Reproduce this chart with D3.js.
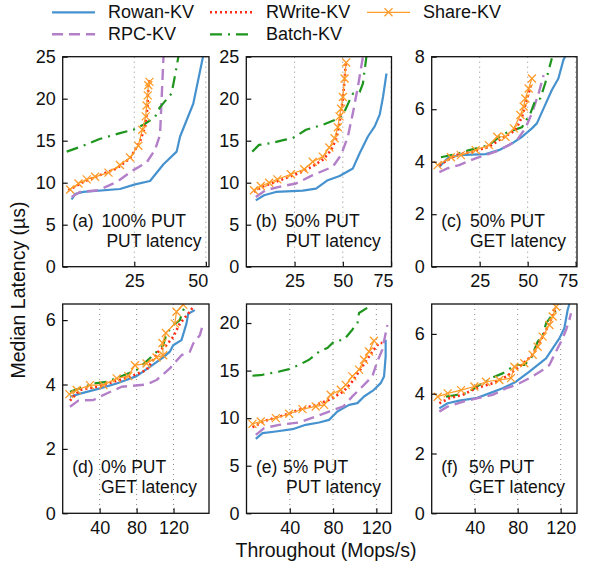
<!DOCTYPE html>
<html>
<head>
<meta charset="utf-8">
<script src="https://cdn.jsdelivr.net/npm/d3@7"></script>
<style>
  body { margin: 0; background: #fff; }
  text { font-family: "Liberation Sans", Arial, Helvetica, sans-serif; fill: #111; }
</style>
</head>
<body>
<div id="chart"></div>
<script>
var seriesNames = ["Rowan-KV", "RWrite-KV", "Share-KV", "RPC-KV", "Batch-KV"];

// tick labels
var yTicks25 = [0, 5, 10, 15, 20, 25],
    yTicks20 = [0, 5, 10, 15, 20],
    yTicks8 = [0, 2, 4, 6, 8],
    yTicks6 = [0, 2, 4, 6],
    xTicks50 = [25, 50],
    xTicks75 = [25, 50, 75],
    xTicks120 = [40, 80, 120];

// (a) 100% PUT, PUT latency  [throughput, latency]
var aRowan = [[3.1,8.0],[4.3,8.65],[7.2,8.9],[20,9.25],[25.3,9.8],[30.5,10.2],[35.2,12.2],[39.8,13.7],[41,15.5],[45.6,19.4],[49,25]];
var aRWrite = [[2,9.1],[7.2,10.1],[13,10.9],[18.9,11.7],[23.5,12.9],[27,14.9],[28.8,16.7],[29.6,19],[29.9,21.4],[30.3,22.2]];
var aShare = [[2.6,9.2],[5.5,9.9],[8.4,10.4],[11.3,10.7],[16,11.2],[20,12.1],[23.5,13],[26.4,14.4],[27.8,16.3],[29,17.9],[29.3,19.2],[29.7,20.4],[29.9,21.6],[30.3,22]];
var aRPC = [[3.1,8.3],[6,8.9],[12.5,9.1],[18.9,10.1],[24.7,11.5],[29.3,12.4],[32.2,13.9],[34,15.7],[35.2,25]];
var aBatch = [[1.4,13.7],[7.2,14.4],[12.9,15.2],[20,15.9],[24.7,16.3],[28.2,16.9],[32.2,17.8],[34,19.0],[38,20.6],[39.2,22.7],[40.4,25]];

// (b) 50% PUT, PUT latency
var bRowan = [[4.9,7.9],[9.2,8.5],[15.3,8.9],[29.2,9.05],[36.1,9.3],[42.2,10.3],[48.3,10.8],[55.2,11.7],[58.7,13.5],[63,15.5],[66.5,16.7],[69.1,18.1],[70.8,20.2],[72.6,23.0]];
var bRWrite = [[4,8.9],[8,9.5],[13,9.9],[20,10.5],[28,11.2],[34,11.9],[40,12.8],[44,13.9],[46.5,15.2],[48,16.8],[49.2,18.5],[50.2,20.5],[51,22.5],[51.5,24.3]];
var bShare = [[4,9.1],[7.5,9.6],[11.8,10],[16.1,10.4],[23.1,11],[30,11.6],[34.4,12.5],[39.6,13.1],[43,14.2],[45.7,15.3],[47.4,16.6],[48.3,17.9],[49.1,18.8],[50,20.2],[50.9,22.4],[51.7,24.3]];
var bRPC = [[4.9,8.3],[10,9.1],[17,9.5],[25.7,9.9],[34.4,10.9],[44.8,11.9],[49.1,13.3],[52.6,15.5],[55.2,18.3],[57.8,21.4],[60.4,25]];
var bBatch = [[3.1,13.7],[6.6,14.5],[12.7,14.7],[19.6,15.1],[24,15.3],[30.9,16.3],[39.6,16.9],[48.3,17.7],[50.9,18.5],[53.5,19.8],[55.2,20.6],[58.7,20.8],[60.4,21.8],[62.2,25]];

// (c) 50% PUT, GET latency
var cRowan = [[4,3.81],[8.3,4.13],[14.3,4.25],[28.1,4.29],[35,4.44],[41.9,4.7],[47.1,4.95],[52.2,5.27],[54.8,5.46],[58.3,6.03],[62.6,6.73],[66,7.17],[68.6,7.87],[69.5,8]];
var cRWrite = [[4,3.87],[12.6,4.25],[21.2,4.38],[29.8,4.57],[36.7,4.89],[43.6,5.2],[47.1,5.71],[49.7,6.41],[51.9,6.98]];
var cShare = [[3.1,3.87],[10,4.17],[15.2,4.25],[22.9,4.44],[29.8,4.63],[34.1,4.95],[38.4,4.95],[42.8,5.27],[46.2,5.78],[47.9,6.1],[48.8,6.41],[50.5,6.79],[52.2,7.17]];
var cRPC = [[4,3.6],[8.3,3.75],[14.3,3.87],[22.9,4.13],[33.3,4.38],[40.2,4.63],[44.5,4.83],[48.8,5.27],[52.2,5.84],[55.7,6.6],[58.3,7.3]];
var cBatch = [[4.8,4.17],[12.6,4.29],[19.5,4.44],[29.8,4.63],[36.7,5.04],[45.3,5.27],[47,5.31],[51.4,5.84],[54,6.35],[56.6,6.41],[59.1,6.98],[62.6,7.94]];

// (d) 0% PUT, GET latency
var dRowan = [[7.9,3.62],[16.9,3.7],[40.4,3.88],[58.4,4.03],[80,4.26],[94.4,4.55],[108.8,4.84],[116,5.02],[119.6,5.22],[128.6,5.38],[134,5.89],[135.9,6.2],[143,6.31]];
var dRWrite = [[7.9,3.5],[18.7,3.83],[36.8,3.93],[54.8,4.08],[72.8,4.24],[90.8,4.45],[103.4,5.02],[112.4,5.22],[119.6,5.48],[126.8,5.89],[135.9,6.2],[141.3,6.41]];
var dShare = [[7.2,3.7],[15.1,3.83],[29.5,3.98],[44,3.98],[58.4,4.19],[71,4.26],[78.2,4.6],[90.8,4.65],[101.6,4.84],[108.8,4.91],[108,5.29],[111.7,5.6],[121.4,5.89],[123.2,6.26],[130.5,6.48]];
var dRPC = [[7.9,3.31],[16.9,3.5],[33.2,3.52],[47.6,3.72],[63.8,3.93],[90.8,4.0],[101.6,4.14],[116,4.5],[128.6,4.91],[137.7,5.02],[141.3,5.27],[148.5,5.53],[152,5.89]];
var dBatch = [[7.9,3.77],[18.7,3.88],[33.2,4.03],[47.6,4.08],[62,4.24],[80,4.45],[98,4.91],[108.8,5.22],[112.4,5.58],[119.6,5.84],[126.8,6.0],[130.5,6.31],[134,6.46]];

// (e) 5% PUT, PUT latency
var eRowan = [[8.6,7.82],[14.8,8.42],[27.1,8.6],[42.5,8.84],[54.8,9.3],[67.1,9.54],[76.3,9.82],[84,10.7],[94.8,11.4],[102.5,11.58],[108.6,12.28],[117.8,12.98],[124,13.68],[127.1,14.39],[128.6,16.5],[128.6,18.25]];
var eRWrite = [[5.5,9.05],[17.8,9.75],[33.2,10.25],[48.6,10.88],[64,11.4],[76.3,11.93],[89.5,12.8],[97.8,13.86],[107.1,15.44],[116.3,17.0],[122.5,17.9],[125.5,17.9]];
var eShare = [[5.5,9.4],[13.2,9.65],[27.1,10],[39.4,10.46],[51.7,10.95],[64,11.23],[71.7,11.4],[77.8,12.46],[87.1,12.98],[91.7,13.5],[97.8,14.39],[104,15.1],[108.6,16.14],[113.2,17.0],[117.8,18.14]];
var eRPC = [[8.6,8.25],[16.3,8.95],[30.2,9.3],[48.6,9.54],[64,10.18],[76.3,10.7],[89.5,11.23],[97.8,12.28],[108.6,13.5],[116.3,14.39],[120.9,15.96],[125.5,17.2],[130.2,19.8]];
var eBatch = [[5.5,14.46],[14.8,14.56],[30.2,14.9],[39.4,15.16],[48.6,15.6],[57.8,16.14],[67.1,17.0],[74.8,17.37],[80.9,18.07],[90.2,18.25],[97.8,19.3],[102.5,20.0],[104,21.05],[111.7,21.6]];

// (f) 5% PUT, GET latency
var fRowan = [[7.1,3.51],[14.9,3.68],[25.7,3.77],[41.2,3.85],[53.6,4.01],[66,4.18],[78.4,4.4],[90.9,4.74],[106.4,5.18],[118.8,5.85],[123.4,6.19],[126.5,6.8],[128.1,7.0]];
var fRWrite = [[7.1,3.68],[16.4,3.85],[28.8,3.96],[41.2,4.18],[56.7,4.35],[69.1,4.57],[81.6,4.9],[94,5.3],[103.3,5.91],[109.5,6.35],[115.7,6.91]];
var fShare = [[5.6,3.9],[14.9,4.01],[27.3,4.12],[39.7,4.24],[50.5,4.4],[62.9,4.46],[73.8,4.52],[76.9,4.9],[86.2,5.02],[94,5.3],[98.6,5.57],[103.3,5.91],[109.5,6.3],[112.6,6.58],[115.7,6.91]];
var fRPC = [[7.1,3.4],[14.9,3.57],[28.8,3.73],[42.8,3.85],[56.7,3.96],[69.1,4.18],[78.4,4.29],[90.9,4.52],[103.3,4.79],[109.5,4.96],[114.1,5.3],[120.3,5.74],[125,6.13],[128.1,6.47],[129.6,6.69]];
var fBatch = [[13.3,3.9],[31.9,4.01],[44.3,4.29],[58.3,4.57],[66,4.68],[75.3,4.9],[80,4.96],[86.2,4.96],[92.4,5.18],[98.6,5.74],[103.3,5.96],[106.4,6.35],[111,6.58],[115.7,6.8]];

var styles = {
  "Rowan-KV":  {color: "#4692cf", width: 2.2, dash: null},
  "RWrite-KV": {color: "#ff2a14", width: 2.6, dash: "2 3"},
  "Share-KV":  {color: "#ff9c2a", width: 1.2, dash: null, marker: true},
  "RPC-KV":    {color: "#b47fc9", width: 2.4, dash: "11 6"},
  "Batch-KV":  {color: "#1e961e", width: 2.2, dash: "12 6 2 6"}
};
var drawOrder = ["Rowan-KV", "RPC-KV", "Batch-KV", "RWrite-KV", "Share-KV"];

var panels = [
  {l: 62.7, r: 209, t: 56.7, b: 266.7, xd: [0, 51.1], yd: [0, 25], xt: xTicks50, yt: yTicks25,
   tag: "(a)", l1: "100% PUT", l2: "PUT latency", o1: 38.7, o2: 43.7,
   data: {"Rowan-KV": aRowan, "RWrite-KV": aRWrite, "Share-KV": aShare, "RPC-KV": aRPC, "Batch-KV": aBatch}},
  {l: 246.3, r: 391.5, t: 56.7, b: 266.7, xd: [0, 75.2], yd: [0, 25], xt: xTicks75, yt: yTicks25,
   tag: "(b)", l1: "50% PUT", l2: "PUT latency", o1: 38.5, o2: 39.5,
   data: {"Rowan-KV": bRowan, "RWrite-KV": bRWrite, "Share-KV": bShare, "RPC-KV": bRPC, "Batch-KV": bBatch}},
  {l: 431.7, r: 577, t: 56.7, b: 266.7, xd: [0, 75.7], yd: [0, 8], xt: xTicks75, yt: yTicks8,
   tag: "(c)", l1: "50% PUT", l2: "GET latency", o1: 38.3, o2: 38.3,
   data: {"Rowan-KV": cRowan, "RWrite-KV": cRWrite, "Share-KV": cShare, "RPC-KV": cRPC, "Batch-KV": cBatch}},
  {l: 62.7, r: 209, t: 304, b: 513.3, xd: [0, 158.4], yd: [0, 6.5], xt: xTicks120, yt: yTicks6,
   tag: "(d)", l1: "0% PUT", l2: "GET latency", o1: 38.3, o2: 38.3,
   data: {"Rowan-KV": dRowan, "RWrite-KV": dRWrite, "Share-KV": dShare, "RPC-KV": dRPC, "Batch-KV": dBatch}},
  {l: 246.5, r: 391.5, t: 304, b: 513.3, xd: [0, 134], yd: [0, 22], xt: xTicks120, yt: yTicks20,
   tag: "(e)", l1: "5% PUT", l2: "PUT latency", o1: 36.5, o2: 39.5,
   data: {"Rowan-KV": eRowan, "RWrite-KV": eRWrite, "Share-KV": eShare, "RPC-KV": eRPC, "Batch-KV": eBatch}},
  {l: 431.7, r: 577, t: 304, b: 513.3, xd: [0, 135.2], yd: [0, 7], xt: xTicks120, yt: yTicks6,
   tag: "(f)", l1: "5% PUT", l2: "GET latency", o1: 37.3, o2: 37.3,
   data: {"Rowan-KV": fRowan, "RWrite-KV": fRWrite, "Share-KV": fShare, "RPC-KV": fRPC, "Batch-KV": fBatch}}
];

var svg = d3.select("#chart").append("svg")
    .attr("width", 590)
    .attr("height", 565);

var defs = svg.append("defs");
var xMark = "M-4,-4L4,4M-4,4L4,-4";

panels.forEach(function(p, i) {
  var x = d3.scaleLinear().domain(p.xd).range([p.l, p.r]);
  var y = d3.scaleLinear().domain(p.yd).range([p.b, p.t]);

  defs.append("clipPath").attr("id", "clip" + i)
    .append("rect")
      .attr("x", p.l).attr("y", p.t)
      .attr("width", p.r - p.l).attr("height", p.b - p.t);

  var g = svg.append("g");

  // dotted vertical grid
  g.selectAll(".grid").data(p.xt).enter()
    .append("line")
      .attr("x1", function(d) { return x(d); })
      .attr("x2", function(d) { return x(d); })
      .attr("y1", p.t).attr("y2", p.b)
      .attr("stroke", "#8a8a8a")
      .attr("stroke-width", 1)
      .attr("stroke-dasharray", "1 4");

  // panel text
  var lab = g.append("g").style("font-size", "17.5px");
  lab.append("text").attr("x", p.l + 9.5).attr("y", p.b - 40).text(p.tag);
  lab.append("text").attr("x", p.l + p.o1).attr("y", p.b - 40).text(p.l1);
  lab.append("text").attr("x", p.l + p.o2).attr("y", p.b - 20).text(p.l2);

  // series
  var plot = g.append("g").attr("clip-path", "url(#clip" + i + ")");
  var line = d3.line()
      .x(function(d) { return x(d[0]); })
      .y(function(d) { return y(d[1]); });

  drawOrder.forEach(function(name) {
    var s = styles[name], pts = p.data[name];
    plot.append("path")
      .datum(pts)
      .attr("d", line)
      .attr("fill", "none")
      .attr("stroke", s.color)
      .attr("stroke-width", s.width)
      .attr("stroke-dasharray", s.dash)
      .attr("stroke-linejoin", "round");
    if (s.marker) {
      plot.selectAll(null).data(pts).enter()
        .append("path")
          .attr("d", xMark)
          .attr("transform", function(d) { return "translate(" + x(d[0]) + "," + y(d[1]) + ")"; })
          .attr("fill", "none")
          .attr("stroke", s.color)
          .attr("stroke-width", 1.3);
    }
  });

  // axes
  var ya = g.append("g")
      .attr("transform", "translate(" + p.l + ",0)")
      .call(d3.axisLeft(y).tickValues(p.yt).tickSize(-5).tickPadding(7).tickFormat(d3.format("d")));
  var xa = g.append("g")
      .attr("transform", "translate(0," + p.b + ")")
      .call(d3.axisBottom(x).tickValues(p.xt).tickSize(-5).tickPadding(8).tickFormat(d3.format("d")));
  [ya, xa].forEach(function(a) {
    a.select(".domain").remove();
    a.selectAll("line").attr("stroke", "#111").attr("stroke-width", 1.2);
    a.selectAll("text").style("font-size", "18px").attr("fill", "#111")
      .style("font-family", "'Liberation Sans', Arial, Helvetica, sans-serif");
  });
  xa.selectAll("text").each(function(d) {
    if (x(d) > p.r - 8) d3.select(this).attr("text-anchor", "end").attr("x", 2);
  });

  // frame
  g.append("rect")
    .attr("x", p.l).attr("y", p.t)
    .attr("width", p.r - p.l).attr("height", p.b - p.t)
    .attr("fill", "none")
    .attr("stroke", "#111")
    .attr("stroke-width", 1.3);
});

// axis titles
svg.append("text")
  .attr("x", 326).attr("y", 557)
  .attr("text-anchor", "middle")
  .style("font-size", "19.5px")
  .text("Throughout (Mops/s)");

svg.append("text")
  .attr("transform", "translate(25,290) rotate(-90)")
  .attr("text-anchor", "middle")
  .style("font-size", "19.5px")
  .text("Median Latency (\u00b5s)");

// legend
var legendPos = [
  {name: "Rowan-KV", x: 52, y: 12.3},
  {name: "RWrite-KV", x: 210, y: 12.3},
  {name: "Share-KV", x: 367, y: 12.3},
  {name: "RPC-KV", x: 52, y: 34.3},
  {name: "Batch-KV", x: 210, y: 34.3}
];
var leg = svg.append("g");
legendPos.forEach(function(e) {
  var s = styles[e.name];
  leg.append("line")
    .attr("x1", e.x).attr("x2", e.x + 43)
    .attr("y1", e.y).attr("y2", e.y)
    .attr("stroke", s.color)
    .attr("stroke-width", s.width)
    .attr("stroke-dasharray", s.dash);
  if (s.marker) {
    leg.append("path").attr("d", xMark)
      .attr("transform", "translate(" + (e.x + 21.5) + "," + e.y + ")")
      .attr("fill", "none").attr("stroke", s.color).attr("stroke-width", 1.3);
  }
  leg.append("text")
    .attr("x", e.x + 56).attr("y", e.y + 6)
    .style("font-size", "18px")
    .text(e.name);
});
</script>
</body>
</html>
